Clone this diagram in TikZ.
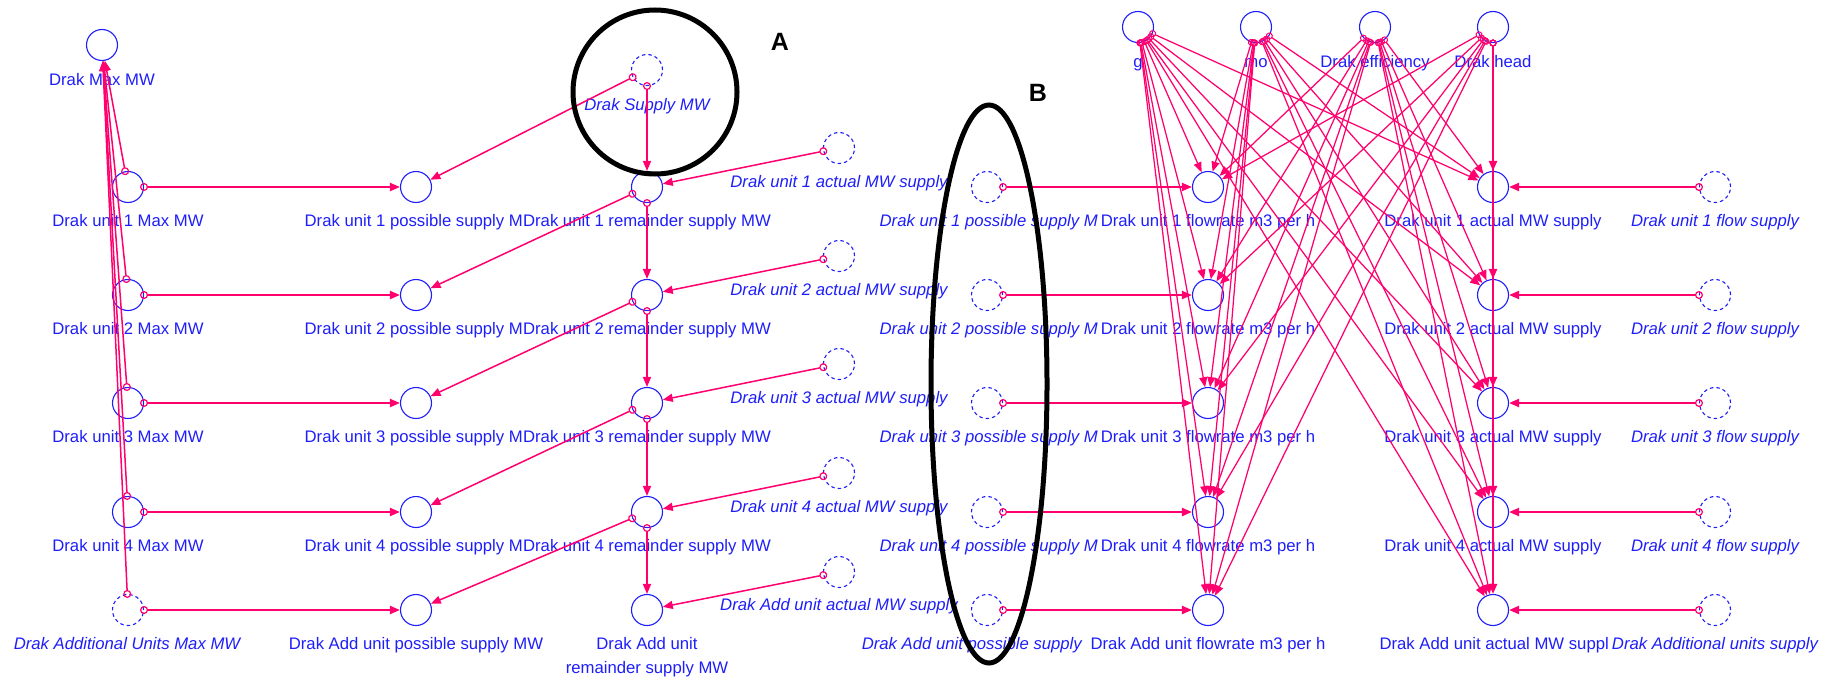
\documentclass[tikz,border=0pt]{standalone}
\usepackage{fontspec}
\setmainfont{Liberation Sans}
\usetikzlibrary{arrows.meta}
\definecolor{blueC}{RGB}{30,30,250}
\definecolor{pinkC}{RGB}{255,0,110}
\begin{document}
\begin{tikzpicture}[x=1pt,y=-1pt,
  font=\fontsize{16.7}{20}\selectfont,
  var/.style={circle,draw=blueC,line width=1.1pt,minimum size=31pt,inner sep=0pt},
  ghost/.style={var,dash pattern=on 3.5pt off 3pt},
  lab/.style={text=blueC,inner sep=0pt,anchor=base},
  glab/.style={lab,font=\fontsize{16.7}{20}\selectfont\itshape},
  link/.style={draw=pinkC,line width=1.5pt,{Circle[open,length=8pt,width=8pt,line width=1.2pt]}-{Triangle[length=10pt,width=8pt]},shorten <=-4pt},
  hlink/.style={link,line width=2pt},
  tlink/.style={draw=pinkC,line width=1.25pt,{Circle[open,length=7pt,width=7pt,line width=1pt]}-{Triangle[length=10pt,width=8pt]},shorten <=-3.5pt},
  vlink/.style={tlink,line width=2.2pt},
  letter/.style={font=\fontsize{25}{25}\selectfont\bfseries,inner sep=0pt}
]
\useasboundingbox (0,0) rectangle (1843,680);

% ---- left block ----
\node[var] (dmax) at (102,45) {};
\node[lab] at (102,85) {Drak Max MW};
\node[ghost] (dsup) at (647,70) {};
\node[glab] at (647,110) {Drak Supply MW};

\foreach \i/\y in {1/187,2/295,3/403,4/512}{
  \node[var] (um\i) at (128,\y) {};
  \node[lab] at (128,\y+39) {Drak unit \i\ Max MW};
  \node[var] (ps\i) at (416,\y) {};
  \node[lab,anchor=base east] at (523,\y+39) {Drak unit \i\ possible supply M};
  \node[var] (rem\i) at (647,\y) {};
  \node[lab] at (647,\y+39) {Drak unit \i\ remainder supply MW};
  \node[ghost] (am\i) at (839,\y-39) {};
  \node[glab] at (839,\y) {Drak unit \i\ actual MW supply};
  \node[ghost] (pg\i) at (987,\y) {};
  \node[glab,anchor=base east] at (1098,\y+39) {Drak unit \i\ possible supply M};
  \node[var] (fr\i) at (1208,\y) {};
  \node[lab] at (1208,\y+39) {Drak unit \i\ flowrate m3 per h};
  \node[var] (act\i) at (1493,\y) {};
  \node[lab] at (1493,\y+39) {Drak unit \i\ actual MW supply};
  \node[ghost] (fs\i) at (1715,\y) {};
  \node[glab] at (1715,\y+39) {Drak unit \i\ flow supply};
}
% row 5
\node[ghost] (um5) at (128,610) {};
\node[glab] at (127,649) {Drak Additional Units Max MW};
\node[var] (ps5) at (416,610) {};
\node[lab] at (416,649) {Drak Add unit possible supply MW};
\node[var] (rem5) at (647,610) {};
\node[lab] at (647,649) {Drak Add unit};
\node[lab] at (647,673) {remainder supply MW};
\node[ghost] (am5) at (839,572) {};
\node[glab] at (839,610) {Drak Add unit actual MW supply};
\node[ghost] (pg5) at (987,610) {};
\node[glab,anchor=base east] at (1082,649) {Drak Add unit possible supply};
\node[var] (fr5) at (1208,610) {};
\node[lab] at (1208,649) {Drak Add unit flowrate m3 per h};
\node[var] (act5) at (1493,610) {};
\node[lab,anchor=base east] at (1609,649) {Drak Add unit actual MW suppl};
\node[ghost] (fs5) at (1715,610) {};
\node[glab] at (1715,649) {Drak Additional units supply};

% top constants
\node[var] (g) at (1138,27) {};
\node[lab] at (1138,67) {g};
\node[var] (mo) at (1256,27) {};
\node[lab] at (1256,67) {mo};
\node[var] (eff) at (1375,27) {};
\node[lab] at (1375,67) {Drak efficiency};
\node[var] (head) at (1493,27) {};
\node[lab] at (1493,67) {Drak head};

% ---- connectors ----
\foreach \i in {1,...,5}{
  \draw[link] (um\i) -- (dmax);
  \draw[hlink] (um\i) -- (ps\i);
  \draw[link] (am\i) -- (rem\i);
  \draw[hlink] (pg\i) -- (fr\i);
  \draw[hlink] (fs\i) -- (act\i);
}
\draw[link] (dsup) -- (ps1);
\draw[link] (dsup) -- (rem1);
\foreach \i/\j in {1/2,2/3,3/4,4/5}{
  \draw[link] (rem\i) -- (ps\j);
  \draw[link] (rem\i) -- (rem\j);
}
\foreach \t in {g,mo,eff,head}{
  \foreach \i in {1,...,5}{
    \draw[tlink] (\t) -- (fr\i);
  }
}
\foreach \t in {g,mo,eff}{
  \foreach \i in {1,...,5}{
    \draw[tlink] (\t) -- (act\i);
  }
}
\foreach \i in {1,...,5}{
  \draw[vlink] (head) -- (act\i);
}

% ---- annotations ----
\draw[line width=5pt] (655,92) circle[radius=82pt];
\draw[line width=5pt] (989,384) ellipse[x radius=58pt,y radius=279pt];
\node[letter] at (780,42) {A};
\node[letter] at (1038,93) {B};
\end{tikzpicture}
\end{document}
